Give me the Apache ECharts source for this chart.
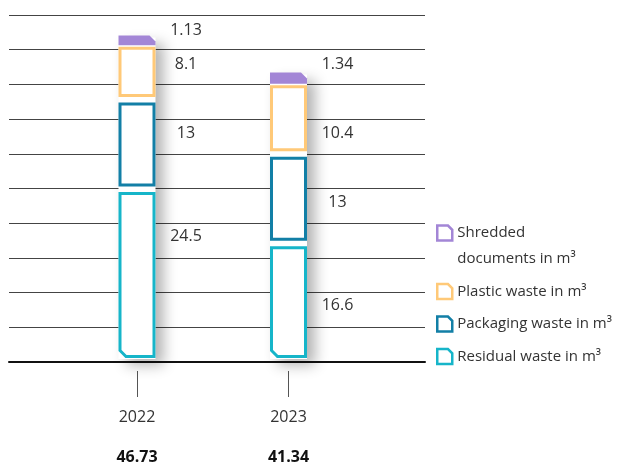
<!DOCTYPE html>
<html>
<head>
<meta charset="utf-8">
<script src="https://cdn.jsdelivr.net/npm/echarts@6/dist/echarts.min.js"></script>
<style>
  html, body { margin: 0; padding: 0; background: #fff; }
  #chart { width: 625px; height: 465px; }
</style>
</head>
<body>
<div id="chart"></div>
<script>
// data
const years = ['2022', '2023'];
const totals = [46.73, 41.34];
const residualWaste = [24.5, 16.6];
const packagingWaste = [13, 13];
const plasticWaste = [8.1, 10.4];
const shreddedDocs = [1.13, 1.34];

const seriesNames = ['Shredded documents in m³', 'Plastic waste in m³', 'Packaging waste in m³', 'Residual waste in m³'];
const colors = ['#a386d6', '#ffc978', '#127fa6', '#16b5c9'];

// band on the value axis where each value label sits (per year)
const labelAt = {
    residual: [17.5, 7.5],
    packaging: [32.5, 22.5],
    plastic: [42.5, 32.5],
    shredded: [47.5, 42.5]
};

const FONT = "'Open Sans', sans-serif";
const BAR_W = 37;
const LINE_W = 3;

// stacked segments: [category index, base, value, label position]
function stackData(values, below, labels) {
    return values.map((v, i) => [i, below.reduce((s, arr) => s + arr[i], 0), v, labels[i]]);
}
const residualData = stackData(residualWaste, [], labelAt.residual);
const packagingData = stackData(packagingWaste, [residualWaste], labelAt.packaging);
const plasticData = stackData(plasticWaste, [residualWaste, packagingWaste], labelAt.plastic);
const shreddedData = stackData(shreddedDocs, [residualWaste, packagingWaste, plasticWaste], labelAt.shredded);

function valueLabel(api, cx, idx, val) {
    const y = api.coord([idx, api.value(3)])[1] - 2;
    return {
        type: 'text',
        x: cx + 49,
        y: y,
        style: {
            text: String(val),
            fill: '#333',
            font: '16px ' + FONT,
            align: 'center',
            verticalAlign: 'middle'
        }
    };
}

function segmentRenderer(kind, color) {
    return function (params, api) {
        const idx = api.value(0);
        const base = api.value(1);
        const val = api.value(2);
        const top = api.coord([idx, base + val]);
        const bot = api.coord([idx, base]);
        const cx = top[0];
        const half = BAR_W / 2;
        let shape;

        if (kind === 'shredded') {
            // filled cap with a cut corner top right
            const X0 = cx - half, X1 = cx + half, Y0 = top[1] - 2, Y1 = bot[1];
            shape = {
                type: 'polygon',
                shape: { points: [[X0, Y0], [X1 - 6, Y0], [X1, Y0 + 6], [X1, Y1], [X0, Y1]] },
                style: { fill: color }
            };
        } else {
            const x0 = cx - half + LINE_W / 2;
            const x1 = cx + half - LINE_W / 2;
            const y0 = top[1] + 1.5 + LINE_W / 2;
            const y1 = (kind === 'residual' ? bot[1] - 1 : bot[1] - 4) - LINE_W / 2;
            let pts = [[x0, y0], [x1, y0], [x1, y1], [x0, y1]];
            if (kind === 'residual') {
                // cut corner bottom left
                pts = [[x0, y0], [x1, y0], [x1, y1], [x0 + 6, y1], [x0, y1 - 6]];
            }
            shape = {
                type: 'polygon',
                shape: { points: pts },
                style: { fill: '#fff', stroke: color, lineWidth: LINE_W }
            };
        }
        return {
            type: 'group',
            children: [shape, valueLabel(api, cx, idx, val)]
        };
    };
}

// white column with its soft shadow, under the segments
function columnRenderer(params, api) {
    const idx = api.value(0);
    const top = api.coord([idx, api.value(1)]);
    const bot = api.coord([idx, 0]);
    return {
        type: 'rect',
        shape: { x: top[0] - BAR_W / 2, y: top[1], width: BAR_W, height: bot[1] - top[1] },
        style: {
            fill: '#fff',
            shadowColor: 'rgba(0,0,0,0.3)',
            shadowBlur: 14,
            shadowOffsetX: 8,
            shadowOffsetY: 6
        }
    };
}

const legendIcon = 'path://M0,0 L10,0 L14,4 L14,14 L0,14 Z';

const chart = echarts.init(document.getElementById('chart'));
const option = {
    animation: false,
    textStyle: { fontFamily: FONT },
    grid: [
        { left: 9, right: 200, top: 15, bottom: 103 },
        { left: 61.25, right: 260.75, top: 15, bottom: 103 }
    ],
    xAxis: [
        {
            type: 'value', gridIndex: 0, min: 0, max: 1,
            axisLine: { show: true, lineStyle: { color: '#111', width: 2 } },
            axisTick: { show: false }, axisLabel: { show: false }, splitLine: { show: false }
        },
        {
            type: 'category', gridIndex: 1, data: years, offset: 12,
            axisLine: { show: false, onZero: false },
            axisTick: { show: true, alignWithLabel: true, length: 26, lineStyle: { color: '#555', width: 1 } },
            axisLabel: {
                margin: 26,
                formatter: function (value, i) {
                    return '{y|' + value + '}\n{t|' + totals[i].toFixed(2) + '}';
                },
                rich: {
                    y: { fontSize: 16, lineHeight: 40, color: '#333', fontFamily: FONT },
                    t: { fontSize: 16, lineHeight: 40, color: '#111', fontWeight: 'bold', fontFamily: FONT }
                }
            }
        }
    ],
    yAxis: [
        {
            type: 'value', gridIndex: 0, min: 0, max: 50, interval: 5,
            axisLine: { show: false }, axisTick: { show: false }, axisLabel: { show: false },
            splitLine: { show: true, lineStyle: { color: '#444', width: 1 } }
        },
        {
            type: 'value', gridIndex: 1, min: 0, max: 50, interval: 5, show: false,
            splitLine: { show: false }
        }
    ],
    legend: {
        orient: 'vertical',
        left: 436,
        top: 194,
        padding: 0,
        itemGap: 6.5,
        itemWidth: 15,
        itemHeight: 15,
        selectedMode: false,
        data: seriesNames.map((n, i) => ({
            name: n,
            icon: legendIcon,
            itemStyle: { color: '#fff', borderColor: colors[i], borderWidth: 2.5 }
        })),
        formatter: function (name) {
            return name === seriesNames[0] ? '\nShredded\ndocuments in m³' : name;
        },
        textStyle: { fontSize: 15, lineHeight: 26, color: '#333', fontFamily: FONT }
    },
    series: [
        {
            type: 'custom', name: 'column', xAxisIndex: 1, yAxisIndex: 1, z: 1,
            data: totals.map((t, i) => [i, t]),
            renderItem: columnRenderer
        },
        {
            type: 'custom', name: seriesNames[3], xAxisIndex: 1, yAxisIndex: 1, z: 2,
            itemStyle: { color: colors[3] },
            data: residualData, encode: { x: 0, y: 2 },
            renderItem: segmentRenderer('residual', colors[3])
        },
        {
            type: 'custom', name: seriesNames[2], xAxisIndex: 1, yAxisIndex: 1, z: 2,
            itemStyle: { color: colors[2] },
            data: packagingData, encode: { x: 0, y: 2 },
            renderItem: segmentRenderer('packaging', colors[2])
        },
        {
            type: 'custom', name: seriesNames[1], xAxisIndex: 1, yAxisIndex: 1, z: 2,
            itemStyle: { color: colors[1] },
            data: plasticData, encode: { x: 0, y: 2 },
            renderItem: segmentRenderer('plastic', colors[1])
        },
        {
            type: 'custom', name: seriesNames[0], xAxisIndex: 1, yAxisIndex: 1, z: 2,
            itemStyle: { color: colors[0] },
            data: shreddedData, encode: { x: 0, y: 2 },
            renderItem: segmentRenderer('shredded', colors[0])
        }
    ]
};
chart.setOption(option);
</script>
</body>
</html>
